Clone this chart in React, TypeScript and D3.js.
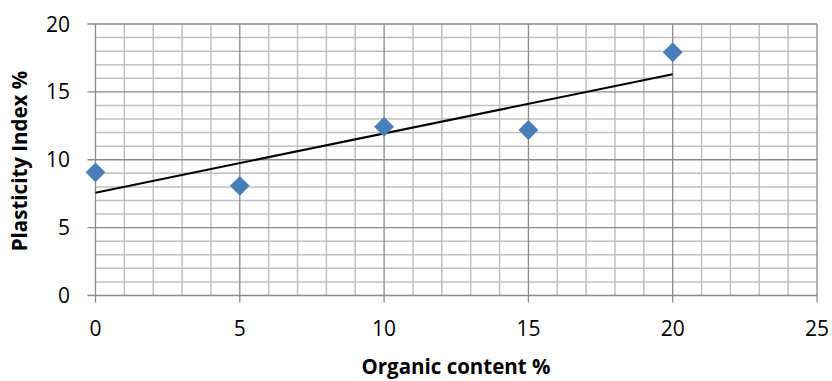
import React from "react";
import * as d3 from "d3";

const organic: number[] = [0, 5, 10, 15, 20];
const plasticity: number[] = [9.07, 8.08, 12.43, 12.19, 17.92];
const xTicks: number[] = [0, 5, 10, 15, 20, 25];
const yTicks: number[] = [0, 5, 10, 15, 20];
const xTitle = "Organic content %";
const yTitle = "Plasticity Index %";

const W = 832, H = 381;
const M = { left: 95.5, right: 817, top: 24, bottom: 295.5 };

export default function App() {
  const x = d3.scaleLinear().domain([0, 25]).range([M.left, M.right]);
  const y = d3.scaleLinear().domain([0, 20]).range([M.bottom, M.top]);
  const minorX = d3.range(0, 26, 1).filter((v) => v % 5 !== 0);
  const minorY = d3.range(0, 21, 1).filter((v) => v % 5 !== 0);

  const mx = d3.mean(organic) as number;
  const my = d3.mean(plasticity) as number;
  const sxy = d3.sum(organic.map((v, i) => (v - mx) * (plasticity[i] - my)));
  const sxx = d3.sum(organic.map((v) => (v - mx) ** 2));
  const slope = sxy / sxx;
  const icpt = my - slope * mx;
  const x0 = d3.min(organic) as number, x1 = d3.max(organic) as number;
  const line = d3.line<number>().x((v) => x(v)).y((v) => y(icpt + slope * v));
  const diamond = d3.symbol().type(d3.symbolDiamond2).size(250)();

  const font = "'Open Sans', sans-serif";
  const minorC = "#c0c0c0", majorC = "#8a8a8a";
  return (
    <svg width={W} height={H} style={{ display: "block", position: "absolute", left: 0, top: 0 }}>
      <rect width={W} height={H} fill="#fff" />
      {minorX.map((v) => (
        <line key={"mx" + v} x1={x(v)} x2={x(v)} y1={M.top} y2={M.bottom} stroke={minorC} strokeWidth={1.5} />
      ))}
      {minorY.map((v) => (
        <line key={"my" + v} x1={M.left} x2={M.right} y1={y(v)} y2={y(v)} stroke={minorC} strokeWidth={1.5} />
      ))}
      {xTicks.map((v) => (
        <line key={"gx" + v} x1={x(v)} x2={x(v)} y1={M.top} y2={M.bottom + 7} stroke={majorC} strokeWidth={1.3} />
      ))}
      {yTicks.map((v) => (
        <line key={"gy" + v} x1={M.left - 8} x2={M.right} y1={y(v)} y2={y(v)} stroke={majorC} strokeWidth={1.3} />
      ))}
      <path d={line([x0, x1]) as string} fill="none" stroke="#000" strokeWidth={2} />
      {organic.map((v, i) => (
        <path key={"p" + i} d={diamond as string} transform={`translate(${x(v)},${y(plasticity[i])})`} fill="#4a7ebb" />
      ))}
      {xTicks.map((v) => (
        <text key={"tx" + v} x={x(v)} y={M.bottom + 40} textAnchor="middle" fontFamily={font} fontSize={21} fill="#000">
          {v}
        </text>
      ))}
      {yTicks.map((v) => (
        <text key={"ty" + v} x={70} y={y(v)} dy="0.36em" textAnchor="end" fontFamily={font} fontSize={21} fill="#000">
          {v}
        </text>
      ))}
      <text x={456} y={374} textAnchor="middle" fontFamily={font} fontSize={20.5} fontWeight="bold" fill="#000">
        {xTitle}
      </text>
      <text transform={`translate(27,161) rotate(-90)`} textAnchor="middle" fontFamily={font} fontSize={20.5} fontWeight="bold" fill="#000">
        {yTitle}
      </text>
    </svg>
  );
}
